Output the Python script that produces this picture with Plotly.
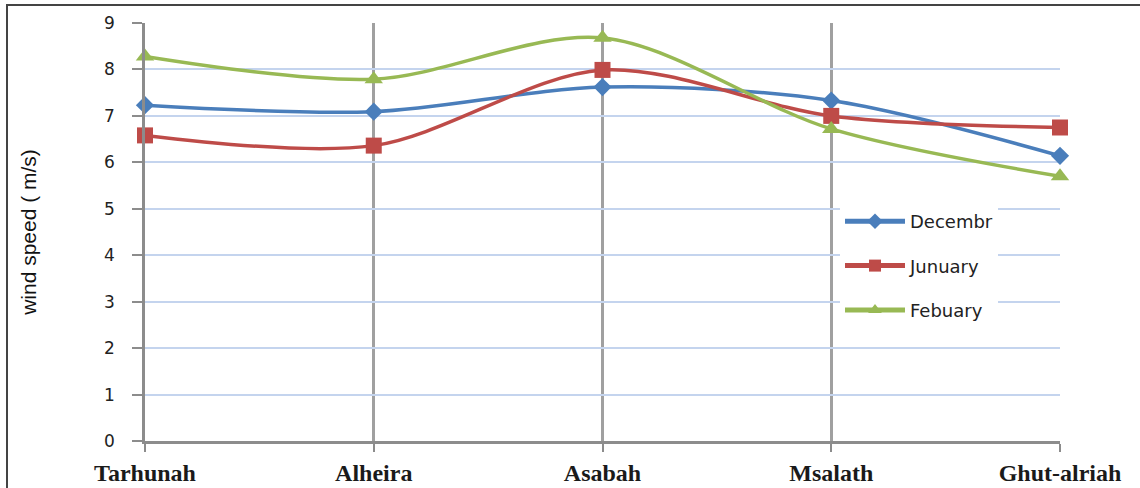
import plotly.graph_objects as go

stations = ["Tarhunah", "Alheira", "Asabah", "Msalath", "Ghut-alriah"]
december = [7.23, 7.09, 7.62, 7.33, 6.14]
january = [6.58, 6.36, 7.99, 7.00, 6.75]
february = [8.28, 7.79, 8.68, 6.72, 5.70]

series = [
    ("Decembr", december, "#4a7ebb", "diamond", 14),
    ("Junuary", january, "#be4b48", "square", 16),
    ("Febuary", february, "#98b954", "triangle-up", 16),
]

x = list(range(len(stations)))

fig = go.Figure()
for name, vals, color, symbol, size in series:
    fig.add_trace(go.Scatter(
        x=x, y=vals, name=name, legendgroup=name, mode="lines+markers",
        line=dict(color=color, width=3.5, shape="spline", smoothing=0.9),
        marker=dict(symbol=symbol, size=size, color=color),
        cliponaxis=False,
    ))

L, R, T, B = 145, 80, 23, 47
W, H = 1140, 488
pw, ph = W - L - R, H - T - B

fig.update_layout(
    width=W, height=H,
    margin=dict(l=L, r=R, t=T, b=B, autoexpand=False),
    paper_bgcolor="white", plot_bgcolor="white",
    showlegend=True,
    legend=dict(
        x=(840 - L) / pw, y=(441 - 203) / ph, xanchor="left", yanchor="top",
        bgcolor="white", borderwidth=0,
        font=dict(family="DejaVu Sans", size=18, color="#222"),
        tracegroupgap=18, itemsizing="constant", itemwidth=60,
    ),
    shapes=[dict(
        type="rect", xref="paper", yref="paper",
        x0=(7 - L) / pw, x1=(W + 10 - L) / pw,
        y0=(441 - (H + 10)) / ph, y1=(441 - 5) / ph,
        line=dict(color="#444", width=2), layer="below",
    )],
)

fig.update_xaxes(
    range=[0, 4], tickvals=x, ticktext=[f"<b>{s}</b>" for s in stations],
    showgrid=True, gridcolor="#a0a0a0", gridwidth=2.5,
    showline=True, linecolor="#8c8c8c", linewidth=2.5,
    ticks="outside", ticklen=8, tickwidth=2, tickcolor="#8c8c8c",
    tickfont=dict(family="Liberation Serif", size=24, color="#1a1a1a"),
    ticklabelstandoff=0,
    zeroline=False, automargin=False,
)
fig.update_yaxes(
    range=[0, 9], dtick=1,
    showgrid=True, gridcolor="#c4d4ee", gridwidth=1.5,
    showline=True, linecolor="#8c8c8c", linewidth=2.5,
    ticks="outside", ticklen=10, tickwidth=2, tickcolor="#8c8c8c",
    tickfont=dict(family="DejaVu Sans", size=17, color="#222"),
    ticklabelstandoff=14,
    title=dict(text="wind speed ( m/s)", standoff=62,
               font=dict(family="Liberation Sans Narrow, Liberation Sans", size=21, color="#111")),
    zeroline=False, automargin=False,
)

fig.write_html("out.html")
